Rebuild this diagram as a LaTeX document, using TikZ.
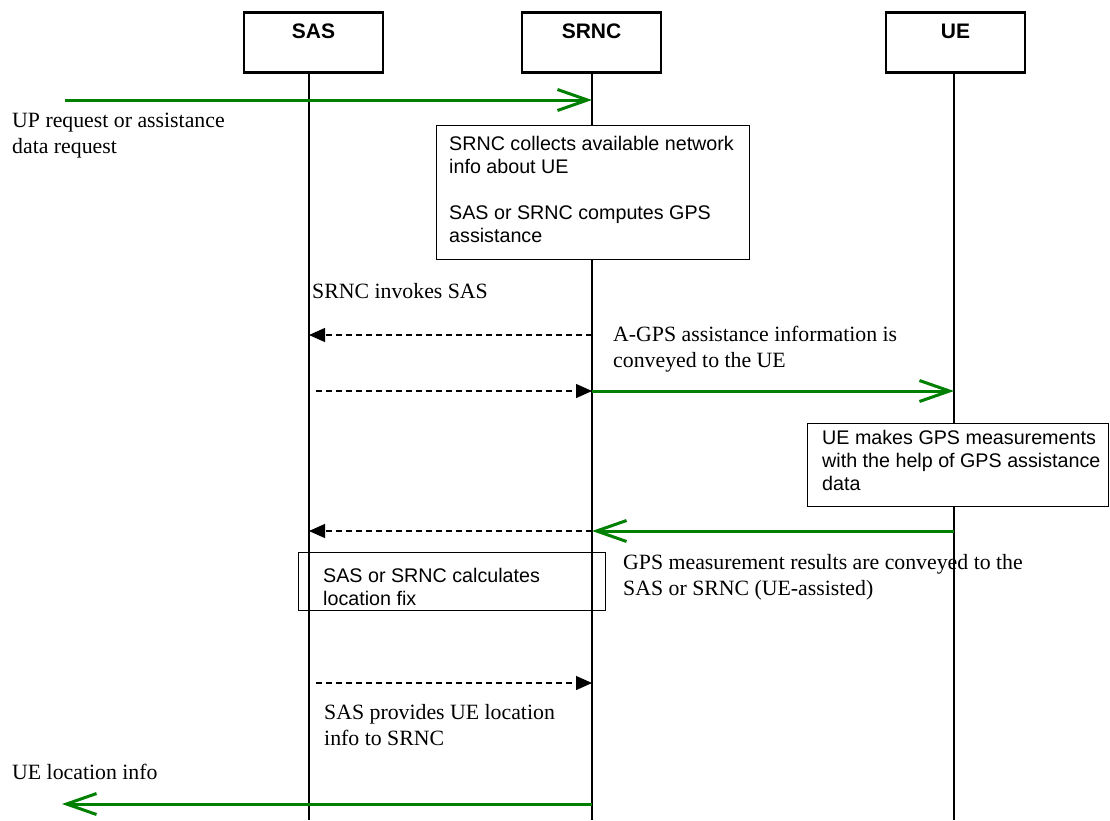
\documentclass[tikz,border=0pt]{standalone}
\usepackage{fontspec}
\setmainfont{Liberation Serif}
\setsansfont{Liberation Sans}
\usetikzlibrary{arrows.meta}
\definecolor{msggreen}{RGB}{0,128,0}
\begin{document}
\begin{tikzpicture}[x=1pt,y=-1pt,
  lifeline/.style={line width=1.2pt,black},
  header/.style={draw,line width=2.6pt,fill=white,minimum width=139pt,minimum height=60pt,
    inner sep=0pt,text height=26.5pt,text depth=33.5pt,anchor=north,
    font=\sffamily\bfseries\fontsize{21}{24}\selectfont},
  notebox/.style={draw,line width=1.2pt,fill=white,inner sep=0pt,anchor=north west},
  openbox/.style={draw,line width=1.2pt,inner sep=0pt,anchor=north west},
  boxtext/.style={inner sep=0pt,align=left,anchor=base west,
    font=\sffamily\fontsize{19.7}{23}\selectfont},
  lbl/.style={inner sep=0pt,align=left,anchor=base west,
    font=\fontsize{21.8}{26}\selectfont},
  gmsg/.style={draw=msggreen,line width=3pt,-{Straight Barb[length=30pt,width=21pt]}},
  dmsg/.style={line width=1.2pt,dash pattern=on 6pt off 4pt,-{Triangle[length=16pt,width=14pt]}}
]
\useasboundingbox (0,0) rectangle (1110,820);
\fill[white] (0,0) rectangle (1110,820);

% lifeline ends
\coordinate (sasEnd) at (309,820);
\coordinate (srncEnd) at (592,820);
\coordinate (ueEnd) at (954,820);

% headers
\node[header] (sas) at (313.5,11) {SAS};
\node[header] (srnc) at (591.5,11) {SRNC};
\node[header] (ue) at (955.5,11) {UE};

\draw[lifeline] (sas.south -| sasEnd) -- (sasEnd);
\draw[lifeline] (srnc.south -| srncEnd) -- (srncEnd);
\draw[lifeline] (ue.south -| ueEnd) -- (ueEnd);

% boxes (base anchor of a multi-line node = baseline of its last line)
\node[notebox,minimum width=313pt,minimum height=134pt] (srncbox) at (436,125) {};
\node[boxtext] (srnctext) at (449,242) {SRNC collects available network\\info about UE\\[23pt]SAS or SRNC computes GPS\\assistance};

\node[notebox,minimum width=301pt,minimum height=83pt] (uebox) at (807,423) {};
\node[boxtext] (uetext) at (822,490) {UE makes GPS measurements\\with the help of GPS assistance\\data};

\node[openbox,minimum width=307pt,minimum height=58pt] (fixbox) at (298,552) {};
\node[boxtext] (fixtext) at (323,605) {SAS or SRNC calculates\\location fix};

% message end points
\coordinate (a1s) at (65,100);  \coordinate (a1e) at (592,100);
\coordinate (a2s) at (592,335); \coordinate (a2e) at (309,335);
\coordinate (a3s) at (316,391); \coordinate (a3e) at (592,391);
\coordinate (a4e) at (954,391);
\coordinate (a5s) at (592,531); \coordinate (a5e) at (309,531);
\coordinate (a6s) at (954,531);
\coordinate (a7s) at (316,683); \coordinate (a7e) at (592,683);
\coordinate (a8s) at (592,804); \coordinate (a8e) at (62,804);

\draw[gmsg] (a1s) -- (a1e);
\draw[dmsg] (a2s) -- (a2e);
\draw[dmsg] (a3s) -- (a3e);
\draw[gmsg] (a3e) -- (a4e);
\draw[dmsg] (a5s) -- (a5e);
\draw[gmsg] (a6s) -- (a5s);
\draw[dmsg] (a7s) -- (a7e);
\draw[gmsg] (a8s) -- (a8e);

% labels
\node[lbl] (lup) at (12,153) {UP request or assistance\\data request};
\node[lbl] (linv) at (312,298) {SRNC invokes SAS};
\node[lbl] (lagps) at (613,367) {A-GPS assistance information is\\conveyed to the UE};
\node[lbl] (lmeas) at (623,595) {GPS measurement results are conveyed to the\\SAS or SRNC (UE-assisted)};
\node[lbl] (lprov) at (324,745) {SAS provides UE location\\info to SRNC};
\node[lbl] (lloc) at (12,779) {UE location info};
\end{tikzpicture}
\end{document}
